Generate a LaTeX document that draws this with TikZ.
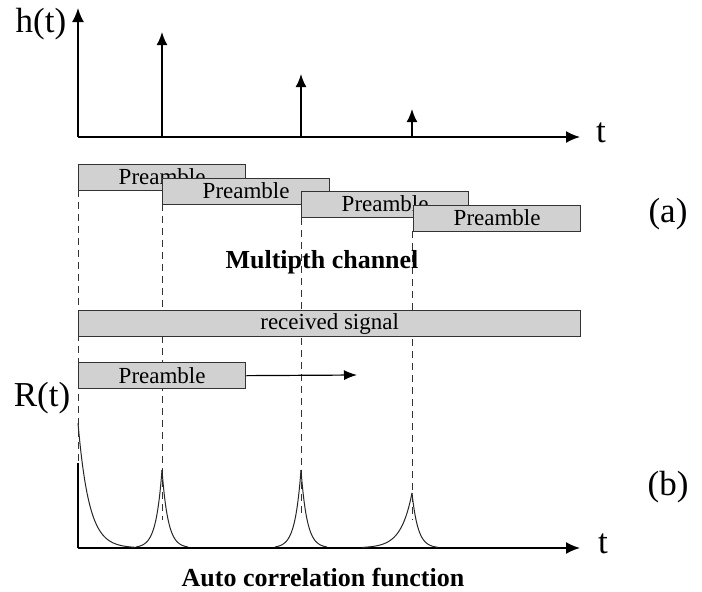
\documentclass[tikz,border=0pt]{standalone}
\usepackage{fontspec}
\setmainfont{Liberation Serif}
\usetikzlibrary{arrows.meta}
\begin{document}
\begin{tikzpicture}[x=1pt,y=-1pt,
  axis/.style={line width=1.8pt,-{Latex[length=14pt,width=12pt]}},
  impulse/.style={line width=1.8pt,-{Latex[length=13pt,width=11pt]}},
  pbox/.style={draw=black!80,line width=1.3pt,fill=black!18,minimum width=167pt,
    minimum height=26pt,inner sep=0pt,anchor=north west,font=\fontsize{23}{24}\selectfont},
  guide/.style={draw=black!80,line width=1pt,dash pattern=on 7pt off 5pt},
  curve/.style={line width=1pt,draw=black!85},
  biglabel/.style={font=\fontsize{35}{36}\selectfont},
  caption/.style={font=\bfseries\fontsize{26}{28}\selectfont}]
\useasboundingbox (0,0) rectangle (702,592);

% impulse response h(t)
\coordinate (ho) at (78,137);
\coordinate (hy) at (78,8);
\coordinate (hx) at (580,137);
\draw[axis] (ho) -- (hy);
\draw[axis] (ho) -- (hx);
\coordinate (i1) at (162,137);
\coordinate (i2) at (301,137);
\coordinate (i3) at (412,137);
\coordinate (i1t) at (162,32);
\coordinate (i2t) at (301,74);
\coordinate (i3t) at (412,109);
\draw[impulse] (i1) -- (i1t);
\draw[impulse] (i2) -- (i2t);
\draw[impulse] (i3) -- (i3t);
\node[biglabel] (hlab) at (41,24) {h(t)};
\node[biglabel] (ht) at (601,133) {t};

% delay guides
\coordinate (g0a) at (78,190);  \coordinate (g0b) at (78,463);
\coordinate (g1a) at (162,204); \coordinate (g1b) at (162,520);
\coordinate (g2a) at (301,218); \coordinate (g2b) at (301,514);
\coordinate (g3a) at (412,231); \coordinate (g3b) at (412,520);
\draw[guide] (g0a) -- (g0b);
\draw[guide] (g1a) -- (g1b);
\draw[guide] (g2a) -- (g2b);
\draw[guide] (g3a) -- (g3b);

% delayed preambles
\node[pbox] (p1) at (78,164) {\raisebox{2pt}{Preamble}};
\node[pbox] (p2) at (162,178) {\raisebox{2pt}{Preamble}};
\node[pbox] (p3) at (301,191) {\raisebox{2pt}{Preamble}};
\node[pbox] (p4) at (413,205) {\raisebox{2pt}{Preamble}};
\node[caption] (mc) at (322,262) {Multipth channel};

% received signal and sliding preamble
\node[pbox,minimum width=502pt] (rx) at (78,310) {received signal};
\node[pbox] (pr) at (78,362) {Preamble};
\coordinate (slide) at (357,375);
\draw[line width=1.2pt,-{Latex[length=13pt,width=10pt]}] (pr.east) -- (slide);

% auto correlation R(t)
\coordinate (ro) at (78,548);
\coordinate (ry) at (78,463);
\coordinate (rx2) at (580,548);
\draw[line width=1.8pt] (ro) -- (ry);
\draw[axis] (ro) -- (rx2);
\node[biglabel] (rlab) at (42,398) {R(t)};
\node[biglabel] (rt) at (603,544) {t};

\draw[curve] plot[domain=78:135,samples=60,smooth] (\x,{548-125*exp(-(\x-78)/11)});
\draw[curve] plot[domain=136:162,samples=40,smooth] (\x,{548-78*exp(-(162-\x)/6)});
\draw[curve] plot[domain=162:188,samples=40,smooth] (\x,{548-78*exp(-(\x-162)/6)});
\draw[curve] plot[domain=275:301,samples=40,smooth] (\x,{548-78*exp(-(301-\x)/6)});
\draw[curve] plot[domain=301:327,samples=40,smooth] (\x,{548-78*exp(-(\x-301)/6)});
\draw[curve] plot[domain=362:412,samples=50,smooth] (\x,{548-55*exp(-(412-\x)/11)});
\draw[curve] plot[domain=412:438,samples=40,smooth] (\x,{548-55*exp(-(\x-412)/6)});

\node[caption] (acf) at (323,577) {Auto correlation function};
\node[biglabel] (la) at (668,214) {(a)};
\node[biglabel] (lb) at (668,487) {(b)};
\end{tikzpicture}
\end{document}
